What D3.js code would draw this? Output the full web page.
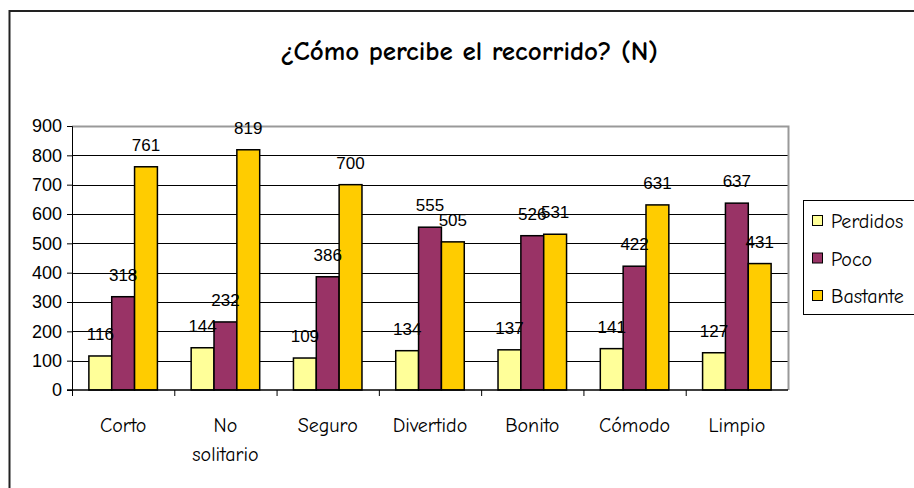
<!DOCTYPE html>
<html>
<head>
<meta charset="utf-8">
<script src="https://cdn.jsdelivr.net/npm/d3@7"></script>
<style>
  body { margin: 0; background: #fff; }
  svg { display: block; }
  .comic { font-family: "Comic Sans MS", "Comic Neue", "DejaVu Sans", sans-serif; }
  .arial { font-family: Arial, "Liberation Sans", sans-serif; }
</style>
</head>
<body>
<script>
// data
const categories = ["Corto", "No solitario", "Seguro", "Divertido", "Bonito", "Cómodo", "Limpio"];
const series = ["Perdidos", "Poco", "Bastante"];
const perdidos = [116, 144, 109, 134, 137, 141, 127];
const poco = [318, 232, 386, 555, 526, 422, 637];
const bastante = [761, 819, 700, 505, 531, 631, 431];
const yTicks = [0, 100, 200, 300, 400, 500, 600, 700, 800, 900];
const colors = ["#ffff99", "#993366", "#ffcc00"];

const values = [perdidos, poco, bastante];
const width = 914, height = 488;
const margin = {top: 126, right: 126, bottom: 98, left: 72};

const svg = d3.select("body").append("svg")
    .attr("width", width)
    .attr("height", height);

// outer chart frame
svg.append("rect")
    .attr("x", 9.5).attr("y", 11)
    .attr("width", 920).attr("height", 490)
    .attr("fill", "#fff")
    .attr("stroke", "#222")
    .attr("stroke-width", 2);

svg.append("text")
    .attr("class", "comic")
    .attr("x", 469).attr("y", 60)
    .attr("text-anchor", "middle")
    .attr("font-size", 27)
    .attr("font-weight", "bold")
    .text("¿Cómo percibe el recorrido? (N)");

const x = d3.scaleBand()
    .domain(categories)
    .range([margin.left, width - margin.right])
    .paddingInner(0.33)
    .paddingOuter(0.165);

const x1 = d3.scaleBand()
    .domain(series)
    .range([0, x.bandwidth()]);

const y = d3.scaleLinear()
    .domain([0, 900])
    .range([height - margin.bottom, margin.top]);

// gridlines
svg.append("g")
    .selectAll("line")
    .data(yTicks.slice(1))
    .join("line")
    .attr("x1", margin.left).attr("x2", width - margin.right)
    .attr("y1", d => Math.round(y(d)) + 0.5).attr("y2", d => Math.round(y(d)) + 0.5)
    .attr("stroke", "#000");

// plot area border (gray)
svg.append("path")
    .attr("d", `M${margin.left},${margin.top + 0.5}H${width - margin.right + 0.5}V${height - margin.bottom}`)
    .attr("fill", "none")
    .attr("stroke", "#999")
    .attr("stroke-width", 2);

// bars
const groups = svg.append("g")
    .selectAll("g")
    .data(categories)
    .join("g")
    .attr("transform", d => `translate(${x(d)},0)`);

groups.selectAll("rect")
    .data((c, i) => series.map((s, j) => ({s, j, v: values[j][i]})))
    .join("rect")
    .attr("x", d => x1(d.s))
    .attr("y", d => y(d.v))
    .attr("width", x1.bandwidth())
    .attr("height", d => y(0) - y(d.v))
    .attr("fill", d => colors[d.j])
    .attr("stroke", "#000")
    .attr("stroke-width", 1.5);

groups.selectAll("text")
    .data((c, i) => series.map((s, j) => ({s, j, v: values[j][i]})))
    .join("text")
    .attr("class", "arial")
    .attr("x", d => x1(d.s) + x1.bandwidth() / 2)
    .attr("y", d => y(d.v) - 16)
    .attr("text-anchor", "middle")
    .attr("font-size", 17)
    .attr("fill", "#000")
    .text(d => d.v);

// y axis
const yAxis = svg.append("g")
    .attr("transform", `translate(${margin.left},0)`)
    .call(d3.axisLeft(y).tickValues(yTicks).tickSize(5).tickPadding(5).tickFormat(d3.format("d")));
yAxis.selectAll("text").attr("class", "arial").attr("font-size", 18).attr("fill", "#000");
yAxis.select(".domain").attr("stroke", "#000");
yAxis.selectAll(".tick line").attr("stroke", "#000");

// x axis
const xAxisG = svg.append("g")
    .attr("transform", `translate(0,${y(0)})`);
xAxisG.append("line")
    .attr("x1", margin.left - 5).attr("x2", width - margin.right)
    .attr("stroke", "#000").attr("stroke-width", 1.5);
const step = x.step();
xAxisG.selectAll(".tk")
    .data(categories)
    .join("line")
    .attr("class", "tk")
    .attr("x1", d => x(d) - step * 0.165 + 0.5)
    .attr("x2", d => x(d) - step * 0.165 + 0.5)
    .attr("y1", 0).attr("y2", 6)
    .attr("stroke", "#000");

xAxisG.selectAll(".lbl")
    .data(categories)
    .join("text")
    .attr("class", "comic lbl")
    .attr("text-anchor", "middle")
    .attr("font-size", 20)
    .attr("transform", d => `translate(${x(d) + x.bandwidth() / 2},0)`)
    .each(function(d) {
      const words = d === "No solitario" ? ["No", "solitario"] : [d];
      d3.select(this).selectAll("tspan")
        .data(words)
        .join("tspan")
        .attr("x", 0)
        .attr("y", (w, i) => 42 + i * 29)
        .text(w => w);
    });

// legend
const legend = svg.append("g");
legend.append("rect")
    .attr("x", 803.5).attr("y", 200.5)
    .attr("width", 130).attr("height", 114)
    .attr("fill", "#fff")
    .attr("stroke", "#000");
const li = legend.selectAll("g")
    .data(series)
    .join("g")
    .attr("transform", (d, i) => `translate(812,${222 + i * 37.5})`);
li.append("rect")
    .attr("x", 0.5).attr("y", -6.5)
    .attr("width", 10).attr("height", 10)
    .attr("fill", (d, i) => colors[i])
    .attr("stroke", "#000");
li.append("text")
    .attr("class", "comic")
    .attr("x", 19).attr("y", 6)
    .attr("font-size", 20)
    .text(d => d);
</script>
</body>
</html>
